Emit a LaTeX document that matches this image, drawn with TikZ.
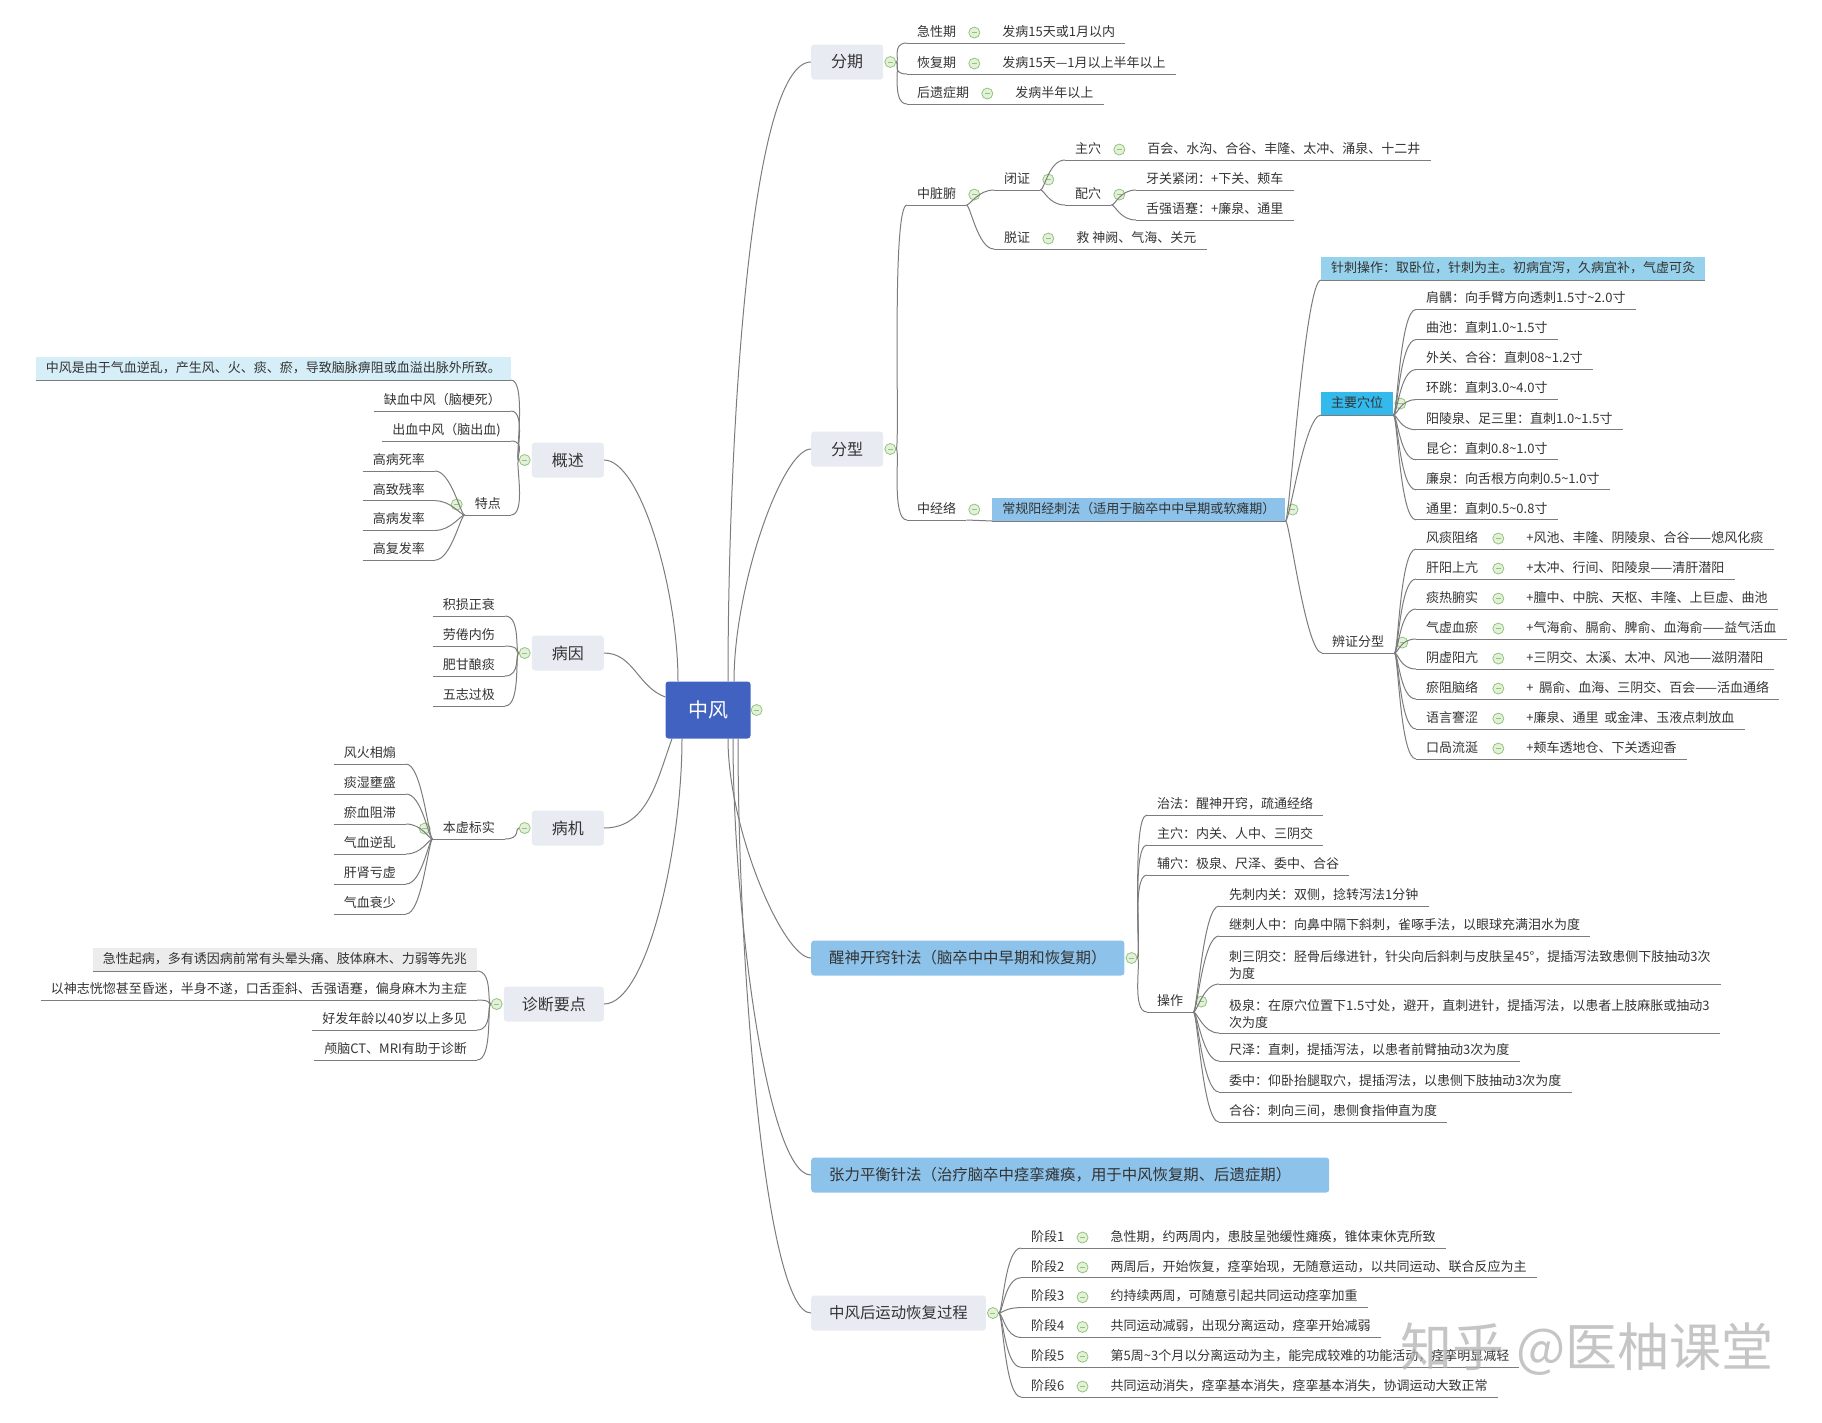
\documentclass[tikz,border=0pt]{standalone}
\usepackage{fontspec}
\setmainfont{Noto Sans CJK SC}
\usetikzlibrary{positioning}

\definecolor{linegray}{HTML}{7C7C7C}
\definecolor{txt}{HTML}{333333}
\definecolor{rootblue}{HTML}{4262C2}
\definecolor{topicgray}{HTML}{E9EBF3}
\definecolor{bannerblue}{HTML}{8DC3EA}
\definecolor{lightblue}{HTML}{97D2EC}
\definecolor{cyanblue}{HTML}{34B9EC}
\definecolor{paleblue}{HTML}{D6EEF7}
\definecolor{palegray}{HTML}{ECECEC}
\definecolor{foldline}{HTML}{93C47D}
\definecolor{foldfill}{HTML}{E4F1DA}

\tikzset{
  link/.style={draw=linegray, line width=1pt},
  branch/.style={out=0, in=180, out distance=4pt, in distance=16pt},
  lbranch/.style={out=180, in=0, out distance=4pt, in distance=16pt},
  topic/.style={rounded corners=3pt, fill=topicgray, text=txt, minimum width=72pt,
    minimum height=35pt, inner xsep=18pt, font=\fontsize{16}{19}\selectfont},
  banner/.style={topic, fill=bannerblue, font=\fontsize{15.4}{18}\selectfont},
  note/.style={anchor=south west, text=txt, inner xsep=10pt, inner ysep=4pt,
    font=\fontsize{13}{17.5}\selectfont,
    append after command={(\tikzlastnode.south west) edge[link] (\tikzlastnode.south east)}},
  leaf/.style={note, text height=10pt, text depth=2.5pt},
  lleaf/.style={leaf, anchor=south east},
  fold/.style={circle, draw=foldline, fill=foldfill, line width=0.8pt, minimum size=11pt, inner sep=0pt,
    path picture={\draw[foldline, line width=0.8pt] ([xshift=-2.5pt]path picture bounding box.center)
      -- ([xshift=2.5pt]path picture bounding box.center);}},
}

\begin{document}
\begin{tikzpicture}[x=1pt, y=-1pt]
\useasboundingbox (0,0) rectangle (1822,1422);

% centre
\node[rounded corners=3pt, fill=rootblue, text=white, minimum width=85pt, minimum height=57pt,
  font=\fontsize{20}{24}\selectfont] (root) at (708,710) {中风};
\node[fold, right=0pt of root] (root-f) {};

% main topics, right
\node[topic, anchor=west] (fenqi) at (811,62) {分期};
\node[topic, anchor=west] (fenxing) at (811,449) {分型};
\node[banner, anchor=west] (xingshen) at (811,958) {醒神开窍针法（脑卒中中早期和恢复期）};
\node[banner, anchor=west, text width=482pt, align=left] (zhangli) at (811,1175) {张力平衡针法（治疗脑卒中痉挛瘫痪，用于中风恢复期、后遗症期）};
\node[topic, anchor=west, font=\fontsize{15.4}{18}\selectfont] (huifu) at (811,1313) {中风后运动恢复过程};
\foreach \n in {fenqi,fenxing,xingshen,huifu}
  \node[fold, right=1pt of \n] (\n-f) {};

% main topics, left
\node[topic, anchor=east] (gaishu) at (604,460) {概述};
\node[topic, anchor=east] (bingyin) at (604,653) {病因};
\node[topic, anchor=east] (bingji) at (604,828) {病机};
\node[topic, anchor=east] (zhenduan) at (604,1004) {诊断要点};
\foreach \n in {gaishu,bingyin,bingji,zhenduan}
  \node[fold, left=1pt of \n] (\n-f) {};

\draw[link] ([xshift=20pt]root.north) to[out=90,in=180,in looseness=0.25] (fenqi.west);
\draw[link] ([xshift=26pt]root.north) to[out=90,in=180,in looseness=0.3] (fenxing.west);
\draw[link] ([xshift=20pt]root.south) to[out=-90,in=180,in looseness=0.3] (xingshen.west);
\draw[link] ([xshift=25pt]root.south) to[out=-90,in=180,in looseness=0.25] (zhangli.west);
\draw[link] ([xshift=30pt]root.south) to[out=-90,in=180,in looseness=0.2] (huifu.west);
\draw[link] ([xshift=-30pt]root.north) to[out=90,in=0,in looseness=0.4] (gaishu.east);
\draw[link] ([yshift=13pt]root.west) to[out=160,in=0] (bingyin.east);
\draw[link] ([xshift=-36pt]root.south) to[out=-110,in=0] (bingji.east);
\draw[link] ([xshift=-26pt]root.south) to[out=-90,in=0,in looseness=0.4] (zhenduan.east);

% 分期
\foreach \a/\b/\y [count=\i] in {急性期/发病15天或1月以内/43, 恢复期/发病15天—1月以上半年以上/74, 后遗症期/发病半年以上/104}{
  \node[leaf] (fq\i) at (907,\y) {\a};
  \node[fold, right=2pt of fq\i] (fq\i-f) {};
  \node[leaf, right=12pt of fq\i-f] (fq\i-d) {\b};
  \draw[link] (fenqi-f.east) to[branch] (fq\i.south west);
  \draw[link] (fq\i.south east) -- (fq\i-d.south west);
}

% 分型: 中脏腑
\node[leaf] (zangfu) at (907,205) {中脏腑};
\node[fold, right=2pt of zangfu] (zangfu-f) {};
\node[leaf] (bizheng) at (994,190) {闭证};
\node[fold, right=2pt of bizheng] (bizheng-f) {};
\node[leaf] (zhuxue) at (1065,160) {主穴};
\node[fold, right=2pt of zhuxue] (zhuxue-f) {};
\node[leaf, right=12pt of zhuxue-f] (zhuxue-d) {百会、水沟、合谷、丰隆、太冲、涌泉、十二井};
\node[leaf] (peixue) at (1065,205) {配穴};
\node[fold, right=2pt of peixue] (peixue-f) {};
\node[leaf] (yaguan) at (1136,190) {牙关紧闭：+下关、颊车};
\node[leaf] (sheqiang) at (1136,220) {舌强语蹇：+廉泉、通里};
\node[leaf] (tuozheng) at (994,249) {脱证};
\node[fold, right=2pt of tuozheng] (tuozheng-f) {};
\node[leaf, right=12pt of tuozheng-f] (tuozheng-d) {救 神阙、气海、关元};

\draw[link] (fenxing-f.east) to[branch] (zangfu.south west);
\draw[link] (zangfu.south east) to[branch] (bizheng.south west);
\draw[link] (zangfu.south east) to[branch] (tuozheng.south west);
\draw[link] (bizheng.south east) to[branch] (zhuxue.south west);
\draw[link] (bizheng.south east) to[branch] (peixue.south west);
\draw[link] (peixue.south east) to[branch] (yaguan.south west);
\draw[link] (peixue.south east) to[branch] (sheqiang.south west);
\draw[link] (zhuxue.south east) -- (zhuxue-d.south west);
\draw[link] (tuozheng.south east) -- (tuozheng-d.south west);

% 分型: 中经络
\node[leaf] (jingluo) at (907,520) {中经络};
\node[fold, right=2pt of jingluo] (jingluo-f) {};
\node[leaf, fill=bannerblue, inner ysep=5pt, right=12pt of jingluo-f] (changgui) {常规阳经刺法（适用于脑卒中中早期或软瘫期）};
\node[fold, right=1pt of changgui] (changgui-f) {};
\draw[link] (fenxing-f.east) to[branch] (jingluo.south west);
\draw[link] (jingluo.south east) -- (changgui.south west);

\node[leaf, fill=lightblue, inner ysep=5pt] (zhenci) at (1321,280) {针刺操作：取卧位，针刺为主。初病宜泻，久病宜补，气虚可灸};
\node[leaf, fill=cyanblue, inner ysep=5pt] (zhuyao) at (1321,415) {主要穴位};
\node[fold, right=1pt of zhuyao] (zhuyao-f) {};
\node[leaf] (bianzheng) at (1322,653) {辨证分型};
\node[fold, right=2pt of bianzheng] (bianzheng-f) {};
\foreach \n in {zhenci,zhuyao,bianzheng}
  \draw[link] (changgui.south east) to[branch] (\n.south west);

\foreach \t [count=\i from 0] in {肩髃：向手臂方向透刺1.5寸\textasciitilde2.0寸, 曲池：直刺1.0\textasciitilde1.5寸, 外关、合谷：直刺08\textasciitilde1.2寸, 环跳：直刺3.0\textasciitilde4.0寸, 阳陵泉、足三里：直刺1.0\textasciitilde1.5寸, 昆仑：直刺0.8\textasciitilde1.0寸, 廉泉：向舌根方向刺0.5\textasciitilde1.0寸, 通里：直刺0.5\textasciitilde0.8寸}{
  \node[leaf] (xw\i) at (1416,{309.5+30.05*\i}) {\t};
  \draw[link] (zhuyao.south east) to[branch] (xw\i.south west);
}

\foreach \a/\b [count=\i from 0] in {风痰阻络/+风池、丰隆、阴陵泉、合谷——熄风化痰, 肝阳上亢/+太冲、行间、阳陵泉——清肝潜阳, 痰热腑实/+膻中、中脘、天枢、丰隆、上巨虚、曲池, 气虚血瘀/+气海俞、膈俞、脾俞、血海俞——益气活血, 阴虚阳亢/+三阴交、太溪、太冲、风池——滋阴潜阳, 瘀阻脑络/+\ \ 膈俞、血海、三阴交、百会——活血通络, 语言謇涩/+廉泉、通里\ \ 或金津、玉液点刺放血, 口咼流涎/+颊车透地仓、下关透迎香}{
  \node[leaf] (bz\i) at (1416,{549+30*\i}) {\a};
  \node[fold, right=4pt of bz\i] (bz\i-f) {};
  \node[leaf, right=12pt of bz\i-f] (bz\i-d) {\b};
  \draw[link] (bianzheng.south east) to[branch] (bz\i.south west);
  \draw[link] (bz\i.south east) -- (bz\i-d.south west);
}

% 醒神开窍针法
\foreach \t/\y [count=\i] in {治法：醒神开窍，疏通经络/815, 主穴：内关、人中、三阴交/845, 辅穴：极泉、尺泽、委中、合谷/875}{
  \node[leaf] (xs\i) at (1147,\y) {\t};
  \draw[link] (xingshen-f.east) to[branch] (xs\i.south west);
}
\node[leaf] (caozuo) at (1147,1012) {操作};
\node[fold, right=2pt of caozuo] (caozuo-f) {};
\draw[link] (xingshen-f.east) to[branch] (caozuo.south west);

\node[leaf] (cz1) at (1219,906) {先刺内关：双侧，捻转泻法1分钟};
\node[leaf] (cz2) at (1219,936) {继刺人中：向鼻中隔下斜刺，雀啄手法，以眼球充满泪水为度};
\node[note, align=left] (cz3) at (1219,984) {刺三阴交：胫骨后缘进针，针尖向后斜刺与皮肤呈45°，提插泻法致患侧下肢抽动3次\\为度};
\node[note, align=left] (cz4) at (1219,1033) {极泉：在原穴位置下1.5寸处，避开，直刺进针，提插泻法，以患者上肢麻胀或抽动3\\次为度};
\node[leaf] (cz5) at (1219,1061) {尺泽：直刺，提插泻法，以患者前臂抽动3次为度};
\node[leaf] (cz6) at (1219,1092) {委中：仰卧抬腿取穴，提插泻法，以患侧下肢抽动3次为度};
\node[leaf] (cz7) at (1219,1122) {合谷：刺向三间，患侧食指伸直为度};
\foreach \i in {1,...,7}
  \draw[link] (caozuo.south east) to[branch] (cz\i.south west);

% 中风后运动恢复过程
\foreach \b [count=\i] in {急性期，约两周内，患肢呈弛缓性瘫痪，锥体束休克所致, 两周后，开始恢复，痉挛始现，无随意运动，以共同运动、联合反应为主, 约持续两周，可随意引起共同运动痉挛加重, 共同运动减弱，出现分离运动，痉挛开始减弱, 第5周\textasciitilde3个月以分离运动为主，能完成较难的功能活动，痉挛明显减轻, 共同运动消失，痉挛基本消失，痉挛基本消失，协调运动大致正常}{
  \node[leaf] (jd\i) at (1021,{1248+29.8*(\i-1)}) {阶段\i};
  \node[fold, right=2pt of jd\i] (jd\i-f) {};
  \node[leaf, right=12pt of jd\i-f] (jd\i-d) {\b};
  \draw[link] (huifu-f.east) to[branch] (jd\i.south west);
  \draw[link] (jd\i.south east) -- (jd\i-d.south west);
}

% 概述
\node[lleaf, fill=paleblue, inner ysep=5pt] (dingyi) at (511,380) {中风是由于气血逆乱，产生风、火、痰、瘀，导致脑脉痹阻或血溢出脉外所致。};
\node[lleaf] (quexue) at (511,411) {缺血中风（脑梗死）};
\node[lleaf] (chuxue) at (511,441) {出血中风（脑出血)};
\node[lleaf] (tedian) at (511,515) {特点};
\node[fold, left=2pt of tedian] (tedian-f) {};
\foreach \n in {dingyi,quexue,chuxue,tedian}
  \draw[link] (gaishu-f.west) to[lbranch] (\n.south east);
\foreach \t [count=\i from 0] in {高病死率,高致残率,高病发率,高复发率}{
  \node[lleaf] (td\i) at (435,{471+29.7*\i}) {\t};
  \draw[link] (tedian.south west) to[lbranch] (td\i.south east);
}

% 病因
\foreach \t [count=\i from 0] in {积损正衰,劳倦内伤,肥甘酿痰,五志过极}{
  \node[lleaf] (by\i) at (505,{616+30*\i}) {\t};
  \draw[link] (bingyin-f.west) to[lbranch] (by\i.south east);
}

% 病机
\node[lleaf] (benxu) at (505,839) {本虚标实};
\node[fold, left=2pt of benxu] (benxu-f) {};
\draw[link] (bingji-f.west) to[lbranch] (benxu.south east);
\foreach \t [count=\i from 0] in {风火相煽,痰湿壅盛,瘀血阻滞,气血逆乱,肝肾亏虚,气血衰少}{
  \node[lleaf] (bj\i) at (406,{764+30*\i}) {\t};
  \draw[link] (benxu.south west) to[lbranch] (bj\i.south east);
}

% 诊断要点
\node[lleaf, fill=palegray, inner ysep=5pt] (zd1) at (477,971) {急性起病，多有诱因病前常有头晕头痛、肢体麻木、力弱等先兆};
\node[lleaf] (zd2) at (477,1000) {以神志恍惚甚至昏迷，半身不遂，口舌歪斜、舌强语蹇，偏身麻木为主症};
\node[lleaf] (zd3) at (477,1030) {好发年龄以40岁以上多见};
\node[lleaf] (zd4) at (477,1060) {颅脑CT、MRI有助于诊断};
\foreach \i in {1,...,4}
  \draw[link] (zhenduan-f.west) to[lbranch] (zd\i.south east);

% watermark
\node[text=black!30, opacity=0.75, font=\fontsize{52}{62}\selectfont] (zhihu) at (1587,1349) {知乎 @医柚课堂};
\end{tikzpicture}
\end{document}
